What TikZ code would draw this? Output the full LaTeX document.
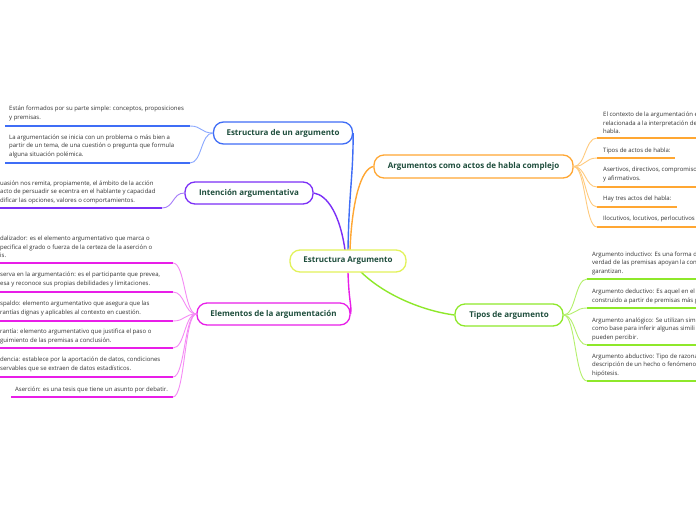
\documentclass[tikz,border=0pt]{standalone}
\usepackage{fontspec}
\setmainfont{Open Sans}
\usetikzlibrary{backgrounds}
\definecolor{titc}{HTML}{1F4E3D}
\definecolor{leafc}{HTML}{333333}
\definecolor{cblue}{HTML}{3F6DF6}
\definecolor{lblue}{HTML}{8AA8FF}
\definecolor{cpurp}{HTML}{7B2FF7}
\definecolor{lpurp}{HTML}{A57CF9}
\definecolor{cmag}{HTML}{E81EE8}
\definecolor{lmag}{HTML}{F58AF5}
\definecolor{corg}{HTML}{FFA733}
\definecolor{lorg}{HTML}{FFCB7E}
\definecolor{cgrn}{HTML}{8EE82A}
\definecolor{lgrn}{HTML}{B4F06C}
\definecolor{cyel}{HTML}{E2F25A}
\tikzset{
  titlebox/.style={draw, line width=1.3pt, rounded corners=10pt, fill=white,
    font=\bfseries\fontsize{8}{9.5}\selectfont, text=titc, inner sep=0pt, minimum height=22pt},
  leaf/.style={inner sep=0pt, align=left, anchor=south west,
    font=\fontsize{6}{8.5}\selectfont, text=leafc},
  ul/.style={line width=1.8pt},
  br/.style={line width=1.4pt},
  lc/.style={line width=0.9pt},
}
\begin{document}
\begin{tikzpicture}[x=1pt,y=-1pt]
\useasboundingbox (0,0) rectangle (696,520);

% ---- title nodes
\node[titlebox, draw=cyel, minimum width=116pt] (C) at (348,261) {Estructura Argumento};
\node[titlebox, draw=cblue, minimum width=139pt] (B) at (283,133) {Estructura de un argumento};
\node[titlebox, draw=cpurp, minimum width=128pt] (P) at (249,193) {Intención argumentativa};
\node[titlebox, draw=cmag, minimum width=153pt] (M) at (273.5,314) {Elementos de la argumentación};
\node[titlebox, draw=corg, minimum width=199pt, minimum height=23pt] (O) at (473.5,166.5) {Argumentos como actos de habla complejo};
\node[titlebox, draw=cgrn, minimum width=108pt] (G) at (509,315) {Tipos de argumento};

% ---- main branches (behind the title boxes)
\coordinate (cb) at (348,250);
\coordinate (cp) at (345,250);
\coordinate (co) at (350,250);
\coordinate (cg) at (360,271);
\begin{pgfonlayer}{background}
\fill[white] (0,0) rectangle (696,520);
\draw[br, cblue] (cb) .. controls +(1,-60) and +(0,45) .. (B.east);
\draw[br, cpurp] (cp) .. controls +(-5,-35) and +(14,2) .. (P.east);
\draw[br, corg] (co) .. controls +(2,-50) and +(-12,2) .. (O.west);
\draw[br, cmag] (C.south) .. controls +(1,30) and +(1,-10) .. (M.east);
\draw[br, cgrn] (cg) .. controls +(25,25) and +(-30,-4) .. (G.west);
\end{pgfonlayer}

% ---- blue leaves
\node[leaf] (b1) at (9,121) {Están formados por su parte simple: conceptos, proposiciones\\y premisas.};
\node[leaf] (b2) at (9,158) {La argumentación se inicia con un problema o más bien a\\partir de un tema, de una cuestión o pregunta que formula\\alguna situación polémica.};
\coordinate (b1a) at (5,126); \coordinate (b1b) at (190,126);
\coordinate (b2a) at (5,163); \coordinate (b2b) at (190,163);
\draw[ul, cblue] (b1a) -- (b1b);
\draw[ul, cblue] (b2a) -- (b2b);
\draw[lc, lblue] (B.west) .. controls +(-12,0) and +(12,0) .. (b1b);
\draw[lc, lblue] (B.west) .. controls +(-12,0) and +(12,0) .. (b2b);

% ---- purple leaf
\node[leaf] (p1) at (0,204) {uasión nos remita, propiamente, el ámbito de la acción\\acto de persuadir se ecentra en el hablante y capacidad\\dificar las opciones, valores o comportamientos.};
\coordinate (p1a) at (0,208); \coordinate (p1b) at (162,208);
\draw[ul, cpurp] (p1a) -- (p1b);
\draw[lc, lpurp] (P.west) .. controls +(-12,0) and +(12,0) .. (p1b);

% ---- magenta leaves
\node[leaf] (m1) at (0,258) {dalizador: es el elemento argumentativo que marca o\\pecifica el grado o fuerza de la certeza de la aserción o\\is.};
\node[leaf] (m2) at (0,287) {serva en la argumentación: es el participante que prevea,\\esa y reconoce sus propias debilidades y limitaciones.};
\node[leaf] (m3) at (0,316) {spaldo: elemento argumentativo que asegura que las\\rantías dignas y aplicables al contexto en cuestión.};
\node[leaf] (m4) at (0,344) {rantía: elemento argumentativo que justifica el paso o\\guimiento de las premisas a conclusión.};
\node[leaf] (m5) at (0,372) {dencia: establece por la aportación de datos, condiciones\\servables que se extraen de datos estadísticos.};
\node[leaf] (m6) at (15,393) {Aserción: es una tesis que tiene un asunto por debatir.};
\coordinate (m1a) at (0,263); \coordinate (m1b) at (173,263);
\coordinate (m2a) at (0,292); \coordinate (m2b) at (173,292);
\coordinate (m3a) at (0,321); \coordinate (m3b) at (173,321);
\coordinate (m4a) at (0,348); \coordinate (m4b) at (173,348);
\coordinate (m5a) at (0,377); \coordinate (m5b) at (173,377);
\coordinate (m6a) at (11,397); \coordinate (m6b) at (173,397);
\foreach \i in {1,...,6}{
  \draw[ul, cmag] (m\i a) -- (m\i b);
  \draw[lc, lmag] (M.west) .. controls +(-12,0) and +(12,0) .. (m\i b);
}

% ---- orange leaves
\node[leaf] (o1) at (603,134) {El contexto de la argumentación e\\relacionada a la interpretación de\\habla.};
\node[leaf] (o2) at (603,154) {Tipos de actos de habla:};
\node[leaf] (o3) at (603,182) {Asertivos, directivos, compromiso\\y afirmativos.};
\node[leaf] (o4) at (603,202) {Hay tres actos del habla:};
\node[leaf] (o5) at (603,222) {Ilocutivos, locutivos, perlocutivos};
\coordinate (o1a) at (597,138); \coordinate (o1b) at (700,138);
\coordinate (o2a) at (597,158); \coordinate (o2b) at (675,158);
\coordinate (o3a) at (597,187); \coordinate (o3b) at (700,187);
\coordinate (o4a) at (597,207); \coordinate (o4b) at (677,207);
\coordinate (o5a) at (597,227); \coordinate (o5b) at (700,227);
\foreach \i in {1,...,5}{
  \draw[ul, corg] (o\i a) -- (o\i b);
  \draw[lc, lorg] (O.east) .. controls +(12,0) and +(-12,0) .. (o\i a);
}

% ---- green leaves
\node[leaf] (g1) at (592,275) {Argumento inductivo: Es una forma d\\verdad de las premisas apoyan la con\\garantizan.};
\node[leaf] (g2) at (592,304) {Argumento deductivo: Es aquel en el\\construido a partir de premisas más g};
\node[leaf] (g3) at (592,341) {Argumento analógico: Se utilizan simi\\como base para inferir algunas simili\\pueden percibir.};
\node[leaf] (g4) at (592,377) {Argumento abductivo: Tipo de razona\\descripción de un hecho o fenómeno\\hipótesis.};
\coordinate (g1a) at (587,279); \coordinate (g1b) at (700,279);
\coordinate (g2a) at (587,308); \coordinate (g2b) at (700,308);
\coordinate (g3a) at (587,345); \coordinate (g3b) at (700,345);
\coordinate (g4a) at (587,381); \coordinate (g4b) at (700,381);
\foreach \i in {1,...,4}{
  \draw[ul, cgrn] (g\i a) -- (g\i b);
  \draw[lc, lgrn] (G.east) .. controls +(12,0) and +(-12,0) .. (g\i a);
}
\end{tikzpicture}
\end{document}
